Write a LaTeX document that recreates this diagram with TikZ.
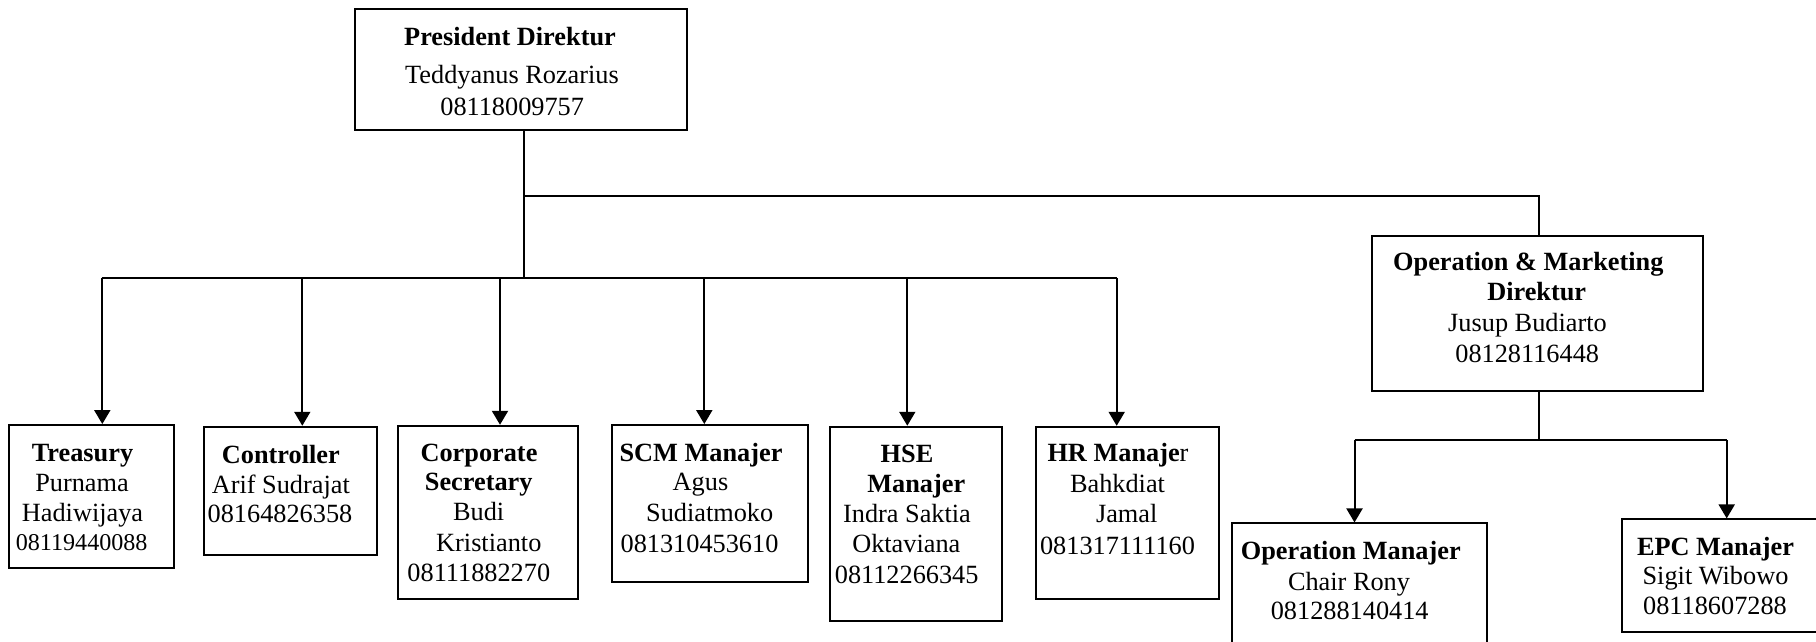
\documentclass[tikz,border=0pt]{standalone}
\usepackage{fontspec}
\setmainfont{Liberation Serif}
\usetikzlibrary{arrows.meta}
\tikzset{
  box/.style={draw, line width=1.8pt, inner sep=0pt, rectangle},
  conn/.style={line width=2pt},
  arr/.style={line width=2pt, -{Triangle[length=14pt,width=16pt]}},
  txt/.style={anchor=base, inner sep=0pt, font=\fontsize{26.3}{30}\selectfont},
  txb/.style={anchor=base, inner sep=0pt, font=\fontsize{26.3}{30}\selectfont\bfseries},
  txs/.style={anchor=base, inner sep=0pt, font=\fontsize{24.1}{28}\selectfont}
}
\begin{document}
\begin{tikzpicture}[x=1pt,y=-1pt]
\useasboundingbox (0,0) rectangle (1816,641);
% boxes
\node[box, minimum width=331.7pt, minimum height=120.7pt] (pres) at (520.8,69.7) {};
\node[box, minimum width=164.7pt, minimum height=142.7pt] (tre) at (91.7,496.3) {};
\node[box, minimum width=173pt, minimum height=128.3pt] (con) at (290.2,490.8) {};
\node[box, minimum width=180.3pt, minimum height=173.6pt] (cor) at (488.2,512.5) {};
\node[box, minimum width=196.6pt, minimum height=156.7pt] (scm) at (710,503.3) {};
\node[box, minimum width=172.3pt, minimum height=194.3pt] (hse) at (916.2,523.8) {};
\node[box, minimum width=183pt, minimum height=172.6pt] (hr) at (1127.5,513) {};
\node[box, minimum width=330.4pt, minimum height=155.3pt] (omd) at (1537.5,313.3) {};
\node[box, minimum width=254.4pt, minimum height=119.7pt] (om) at (1359.5,583.2) {};
\node[box, minimum width=195.7pt, minimum height=112.4pt] (epc) at (1720.2,575.5) {};
% connectors
\coordinate (tj) at (524,196);
\coordinate (tk) at (1538.7,196);
\coordinate (pj) at (524,278);
\coordinate (bl) at (101.7,278);
\coordinate (br) at (1116.7,278);
\coordinate (a1) at (102.3,278);
\coordinate (a2) at (302.3,278);
\coordinate (a3) at (500,278);
\coordinate (a4) at (704.3,278);
\coordinate (a5) at (907.3,278);
\coordinate (a6) at (1116.7,278);
\coordinate (oj) at (1538.7,440);
\coordinate (ol) at (1354.5,440);
\coordinate (orr) at (1726.7,440);
\draw[conn] (pres.south -| pj) -- (pj);
\draw[conn] (tj) -- (tk) -- (tk |- omd.north);
\draw[conn] (bl) -- (br);
\draw[arr] (a1) -- (a1 |- tre.north);
\draw[arr] (a2) -- (a2 |- con.north);
\draw[arr] (a3) -- (a3 |- cor.north);
\draw[arr] (a4) -- (a4 |- scm.north);
\draw[arr] (a5) -- (a5 |- hse.north);
\draw[arr] (a6) -- (a6 |- hr.north);
\draw[conn] (omd.south -| oj) -- (oj);
\draw[conn] (ol) -- (orr);
\draw[arr] (ol) -- (ol |- om.north);
\draw[arr] (orr) -- (orr |- epc.north);
% texts
\node[txb] (pres1) at (510,45) {President Direktur};
\node[txt] (pres2) at (512,83.3) {Teddyanus Rozarius};
\node[txt] (pres3) at (512.2,115) {08118009757};
\node[txb] (tre1) at (82.5,461) {Treasury};
\node[txt] (tre2) at (82,491) {Purnama};
\node[txt] (tre3) at (82.5,521.7) {Hadiwijaya};
\node[txs] (tre4) at (81.7,550.7) {08119440088};
\node[txb] (con1) at (280.8,463.3) {Controller};
\node[txt] (con2) at (280.8,493.3) {Arif Sudrajat};
\node[txt] (con3) at (280,522.7) {08164826358};
\node[txb] (cor1) at (479,461.7) {Corporate};
\node[txb] (cor2) at (478.7,490) {Secretary};
\node[txt] (cor3) at (478.7,520) {Budi};
\node[txt] (cor4) at (488.8,551.7) {Kristianto};
\node[txt] (cor5) at (478.8,581.7) {08111882270};
\node[txb] (scm1) at (701,461) {SCM Manajer};
\node[txt] (scm2) at (700.5,490) {Agus};
\node[txt] (scm3) at (709.7,521.7) {Sudiatmoko};
\node[txt] (scm4) at (699.5,552.3) {081310453610};
\node[txb] (hse1) at (907,462.7) {HSE};
\node[txb] (hse2) at (916.3,492.7) {Manajer};
\node[txt] (hse3) at (907,522.7) {Indra Saktia};
\node[txt] (hse4) at (906.3,552.7) {Oktaviana};
\node[txt] (hse5) at (906.7,583.3) {08112266345};
\node[txt] (hr1) at (1118,461.7) {\textbf{HR Manaje}r};
\node[txt] (hr2) at (1117.5,492.7) {Bahkdiat};
\node[txt] (hr3) at (1126.7,522.7) {Jamal};
\node[txt] (hr4) at (1117.5,554) {081317111160};
\node[txb] (omd1) at (1528.3,270) {Operation \& Marketing};
\node[txb] (omd2) at (1536.7,300.7) {Direktur};
\node[txt] (omd3) at (1527.5,331.7) {Jusup Budiarto};
\node[txt] (omd4) at (1527.2,362.7) {08128116448};
\node[txb] (om1) at (1350.8,559.3) {Operation Manajer};
\node[txt] (om2) at (1349,590) {Chair Rony};
\node[txt] (om3) at (1349.7,619.3) {081288140414};
\node[txb] (epc1) at (1715.5,555) {EPC Manajer};
\node[txt] (epc2) at (1715.5,584.3) {Sigit Wibowo};
\node[txt] (epc3) at (1715,614) {08118607288};
\end{tikzpicture}
\end{document}
